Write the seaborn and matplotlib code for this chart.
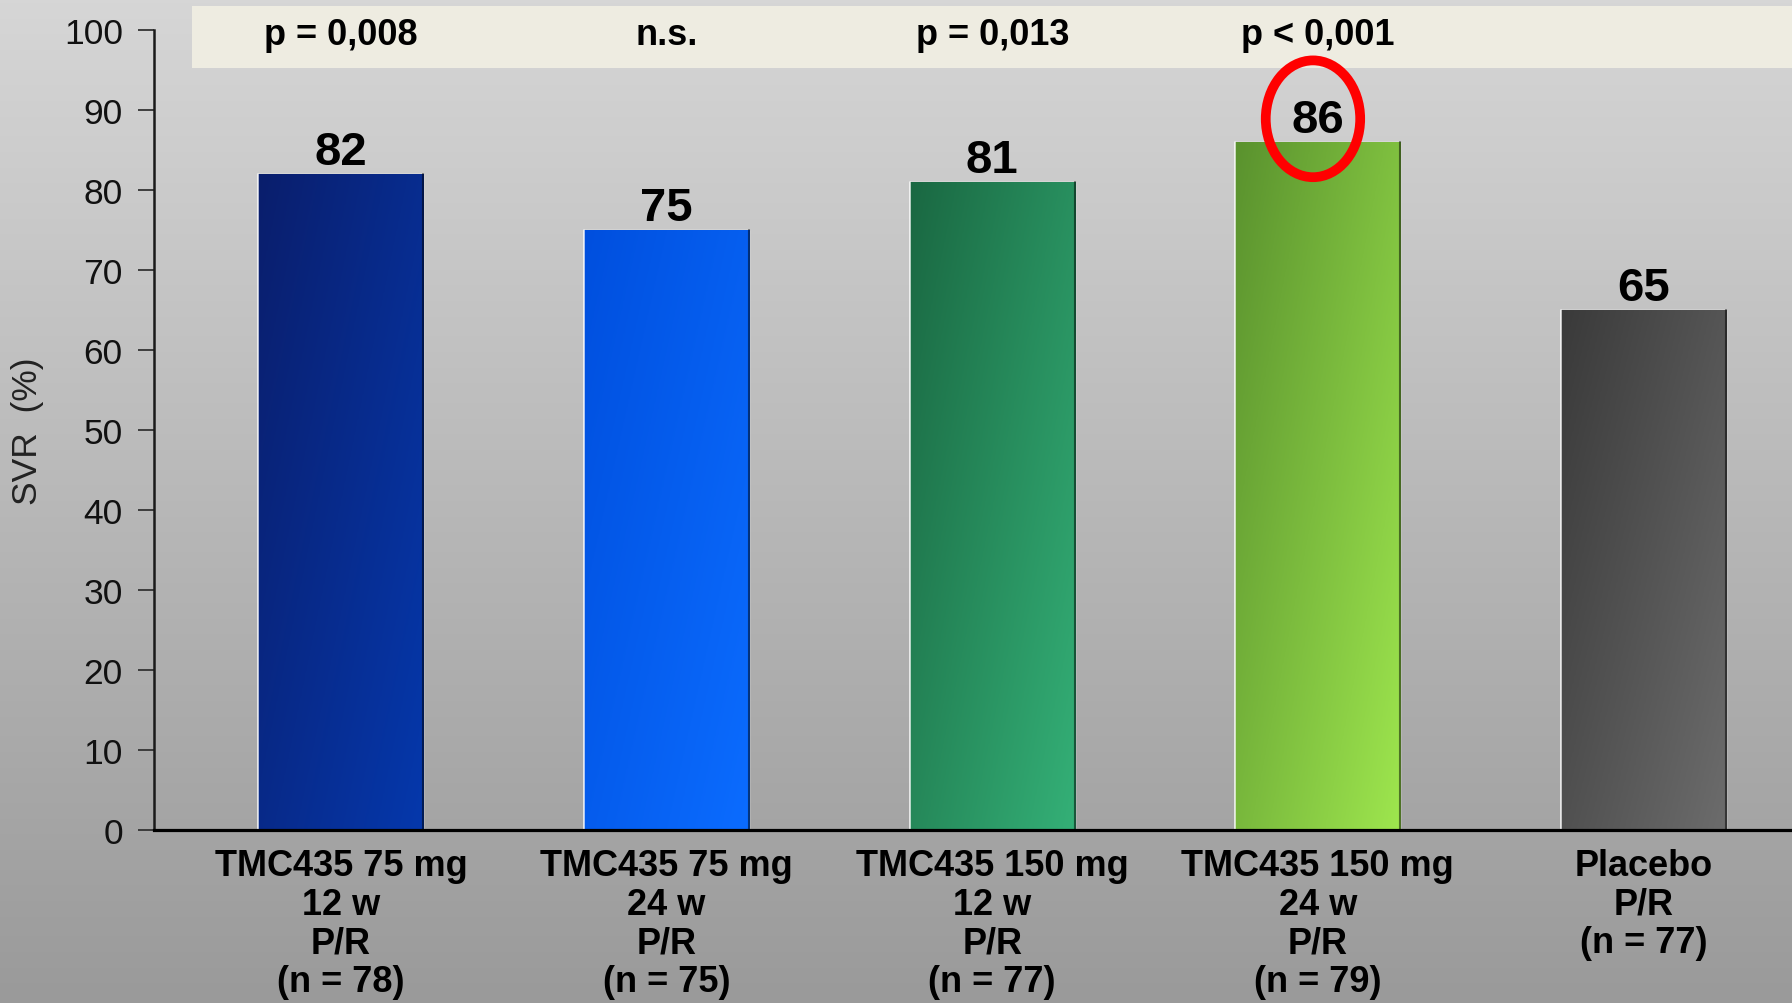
import numpy as np
import pandas as pd
import matplotlib
matplotlib.use("Agg")
import matplotlib.pyplot as plt
import seaborn as sns
from matplotlib.patches import Rectangle, Ellipse
from matplotlib.colors import to_rgb

# ---- data ----
categories = [
    "TMC435 75 mg\n12 w\nP/R\n(n = 78)",
    "TMC435 75 mg\n24 w\nP/R\n(n = 75)",
    "TMC435 150 mg\n12 w\nP/R\n(n = 77)",
    "TMC435 150 mg\n24 w\nP/R\n(n = 79)",
    "Placebo\nP/R\n(n = 77)",
]
svr_values = [82, 75, 81, 86, 65]
p_labels = ["p = 0,008", "n.s.", "p = 0,013", "p < 0,001"]
y_ticks = list(range(0, 101, 10))
y_label = "SVR  (%)"

# ---- styling ----
grad_colors = [
    ("#0A1E6C", "#0538AC"),
    ("#004FDE", "#0B6CFF"),
    ("#1A6842", "#34B077"),
    ("#5A922E", "#9EE64E"),
    ("#3A3A3A", "#6C6C6C"),
]
flat_colors = ["#072A8E", "#005CF5", "#279A5E", "#7CBF3C", "#555555"]

sns.set_theme(style="white")
plt.rcParams["font.family"] = ["Liberation Sans", "DejaVu Sans"]

W, H = 1792, 1004
fig = plt.figure(figsize=(W / 100, H / 100), dpi=100)

# background gradient
bg = fig.add_axes([0, 0, 1, 1], zorder=-10)
top_c = np.array(to_rgb("#D6D6D6"))
bot_c = np.array(to_rgb("#9A9A9A"))
t = np.linspace(0, 1, 256)[:, None]
grad = (top_c[None, :] * (1 - t) + bot_c[None, :] * t)[:, None, :]
bg.imshow(grad, aspect="auto", extent=[0, 1, 0, 1], origin="upper")
bg.set_axis_off()

# p-value band (drawn between background and main axes)
fig.patches.append(Rectangle((192 / W, 1 - 69 / H), 1 - 192 / W, 62 / H,
                             transform=fig.transFigure, facecolor="#EEECE1",
                             edgecolor="none", zorder=-5))

ax = fig.add_axes([154 / W, 173 / H, 1 - 154 / W, 800 / H])
ax.set_facecolor("none")

df = pd.DataFrame({"cat": categories, "val": svr_values})
sns.barplot(data=df, x="cat", y="val", hue="cat", palette=flat_colors,
            legend=False, width=0.507, ax=ax, saturation=1)

# gradient overlay clipped to bars
for patch, (c0, c1) in zip(ax.patches, grad_colors):
    x0, y0 = patch.get_x(), patch.get_y()
    w, h = patch.get_width(), patch.get_height()
    a, b = np.array(to_rgb(c0)), np.array(to_rgb(c1))
    xx = np.linspace(0, 1, 64)[None, :]
    yy = np.linspace(0, 1, 128)[:, None]  # 0 top -> 1 bottom
    tt = np.clip(0.55 * xx + 0.45 * yy, 0, 1)
    img = a[None, None, :] * (1 - tt[..., None]) + b[None, None, :] * tt[..., None]
    im = ax.imshow(img, extent=[x0, x0 + w, y0, y0 + h], origin="upper",
                   aspect="auto", zorder=patch.get_zorder() + 0.1)
    im.set_clip_path(patch)
    ax.plot([x0, x0], [y0, y0 + h], color="white", lw=1.2, alpha=0.8,
            zorder=patch.get_zorder() + 0.2)
    ax.plot([x0 + w, x0 + w], [y0, y0 + h], color="black", lw=1.5, alpha=0.5,
            zorder=patch.get_zorder() + 0.2)

ax.set_xlim(-0.574, 4.456)
ax.set_ylim(0, 100)
ax.set_yticks(y_ticks)
ax.set_yticklabels([str(v) for v in y_ticks], fontsize=25.5, color="#111111")
ax.tick_params(axis="y", direction="out", length=11.5, width=1.3,
               color="#333333", pad=11, left=True)
ax.tick_params(axis="x", length=0, pad=13)
ax.set_xticks(range(len(categories)))
ax.set_xticklabels(categories, fontsize=26, fontweight="bold",
                   linespacing=1.13, color="black", va="top")
ax.set_xlabel("")
ax.set_ylabel(y_label, fontsize=25.5, color="#222222", labelpad=14)

for s in ["top", "right"]:
    ax.spines[s].set_visible(False)
ax.spines["bottom"].set_color("black")
ax.spines["bottom"].set_linewidth(2.3)
ax.spines["bottom"].set_zorder(5)
ax.spines["left"].set_color("#1A1A1A")
ax.spines["left"].set_linewidth(1.8)

# value labels
for i, v in enumerate(svr_values):
    ax.text(i, v + 1.25, str(v), ha="center", va="baseline", fontsize=34,
            fontweight="bold", color="black", zorder=6)

# p-values
for i, p in enumerate(p_labels):
    ax.text(i, 0.9825, p, transform=ax.get_xaxis_transform(), ha="center",
            va="baseline", fontsize=26, fontweight="bold", color="black",
            clip_on=False, zorder=6)

# highlight the highest bar
imax = int(np.argmax(svr_values))
ax.add_patch(Ellipse((imax - 0.015, svr_values[imax] + 2.9), 0.29, 14.6,
                     facecolor="none", edgecolor="#FF0000", lw=7,
                     clip_on=False, zorder=7))

fig.savefig("out.png", dpi=100)
